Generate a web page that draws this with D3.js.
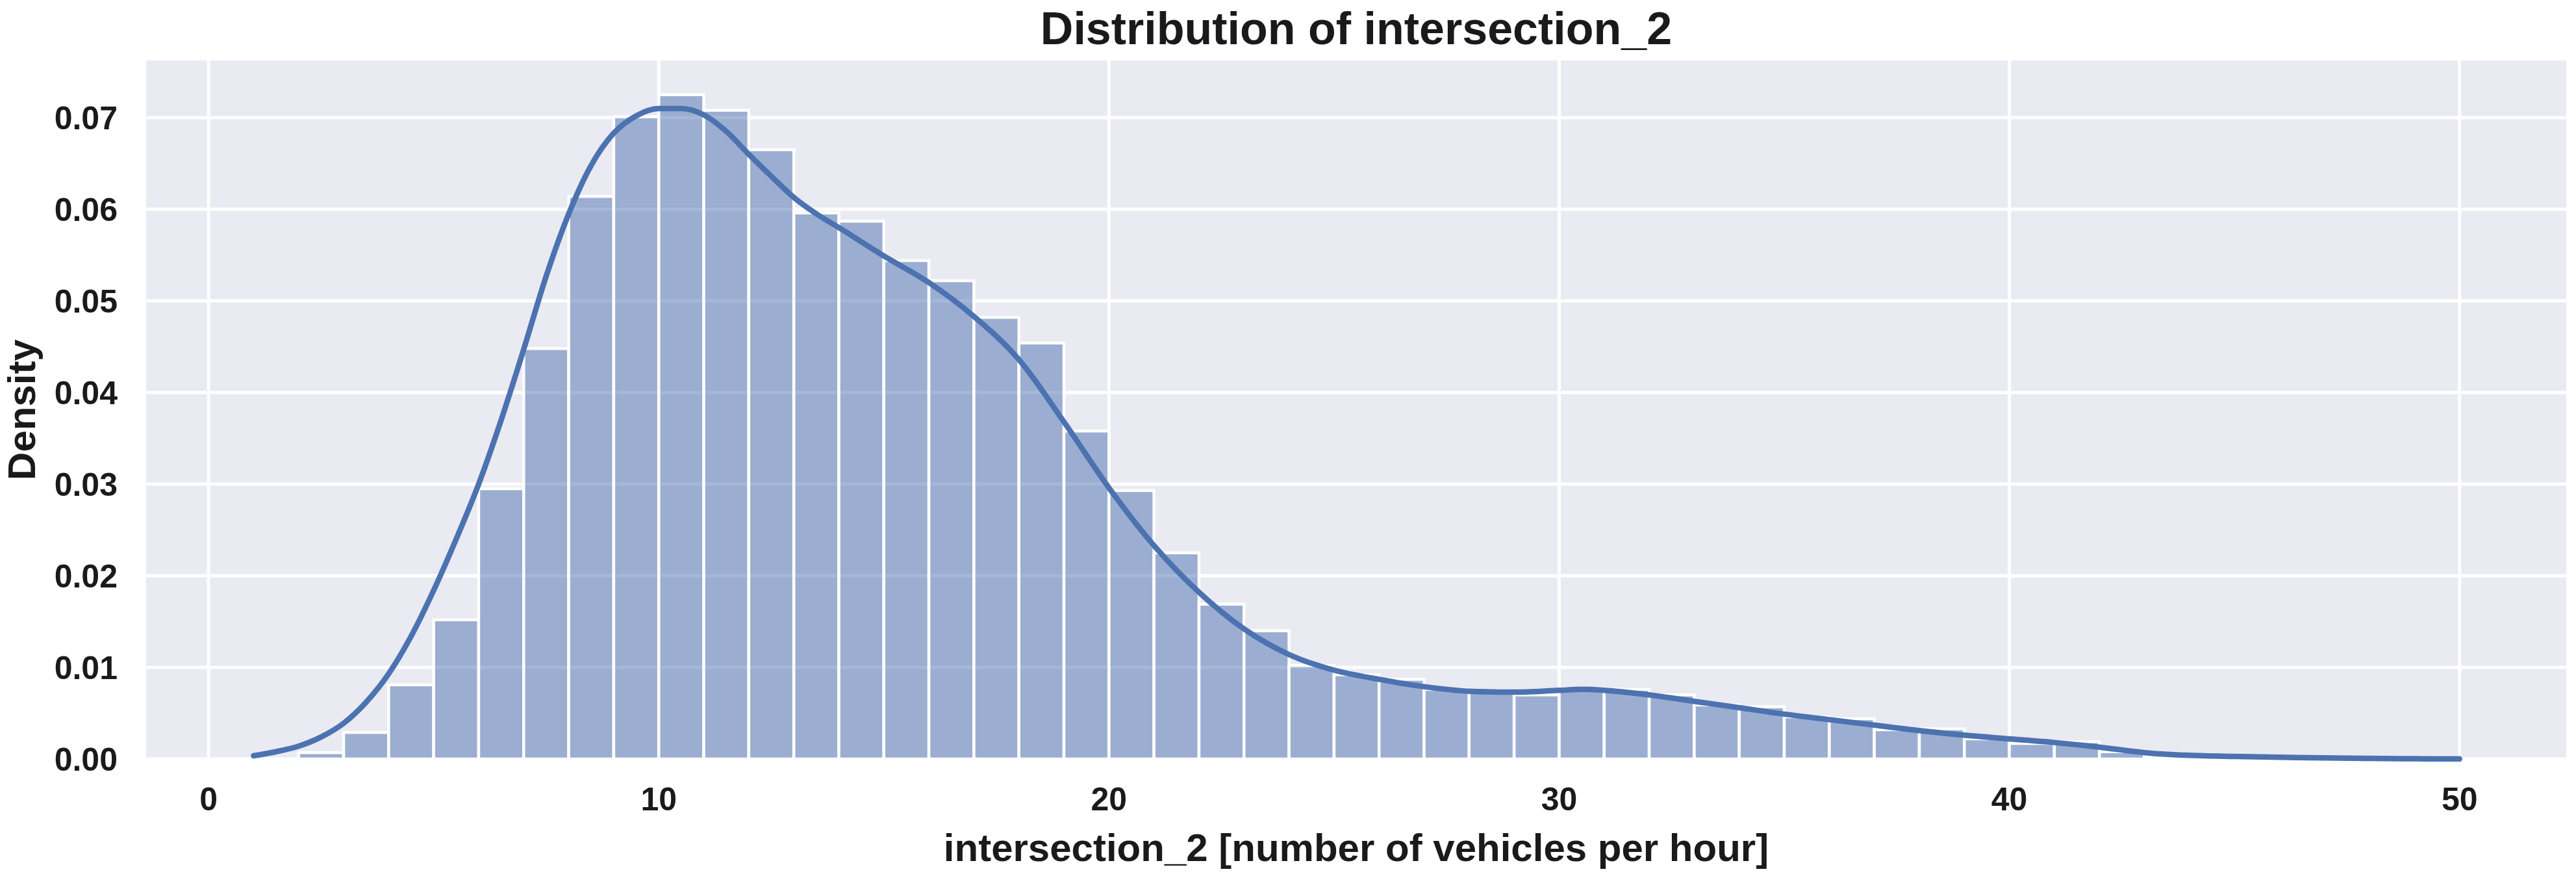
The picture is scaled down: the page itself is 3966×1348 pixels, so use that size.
<!DOCTYPE html>
<html>
<head>
<meta charset="utf-8">
<script src="https://cdn.jsdelivr.net/npm/d3@7"></script>
<style>
  html, body { margin: 0; padding: 0; background: #ffffff; }
  svg { display: block; }
  text { font-family: "Liberation Sans", Arial, Helvetica, sans-serif; font-weight: bold; fill: #1a1a1a; }
</style>
</head>
<body>
<svg id="chart" width="3966" height="1348"></svg>
<script>
// ---- data ----
const binStarts = [2,3,4,5,6,7,8,9,10,11,12,13,14,15,16,17,18,19,20,21,22,23,24,25,26,27,28,29,30,31,32,33,34,35,36,37,38,39,40,41,42,43];
const binDensity = [0.0007,0.0029,0.0081,0.0152,0.0295,0.0448,0.0614,0.0701,0.0725,0.0708,0.0665,0.0596,0.0587,0.0544,0.0522,0.0482,0.0454,0.0358,0.0293,0.0225,0.0169,0.0140,0.0102,0.0092,0.0087,0.0076,0.0073,0.0070,0.0077,0.0076,0.0070,0.0059,0.0057,0.0046,0.0044,0.0032,0.0033,0.0022,0.0017,0.0019,0.0008,0.0002];
const binWidth = 1;

const kdeX = [1,1.5,2,2.5,3,3.5,4,4.5,5,5.5,6,6.5,7,7.5,8,8.5,9,9.5,10,10.5,11,11.5,12,12.5,13,13.5,14,15,16,17,18,19,20,21,22,23,24,25,26,27,28,29,30,30.5,31,32,33,34,35,36,37,38,39,40,41,42,43,44,45,46,47,48,49,50];
const kdeY = [0.00035,0.0008,0.0014,0.0024,0.0039,0.0062,0.0093,0.0134,0.0184,0.0240,0.0300,0.0370,0.0447,0.0527,0.0595,0.0648,0.0683,0.0702,0.0710,0.0710,0.0703,0.0685,0.0660,0.0636,0.0613,0.0595,0.0580,0.0549,0.0520,0.0483,0.0436,0.0368,0.0296,0.0233,0.0182,0.0142,0.0114,0.0097,0.0087,0.0079,0.0074,0.0073,0.0075,0.0076,0.0075,0.0070,0.0063,0.0056,0.0049,0.0043,0.0037,0.0031,0.0026,0.0022,0.0018,0.0013,0.0007,0.0004,0.00028,0.0002,0.00012,0.00007,0.00003,0.00001];

const xTicks = [0,10,20,30,40,50];
const yTicks = [0.00,0.01,0.02,0.03,0.04,0.05,0.06,0.07];

const titleText = "Distribution of intersection_2";
const xLabelText = "intersection_2 [number of vehicles per hour]";
const yLabelText = "Density";

// ---- layout ----
const W = 3966, H = 1348;
const plot = { left: 225, right: 3951, top: 93, bottom: 1168 };
const color = "#4c72b0";

const svg = d3.select("#chart");
svg.append("rect").attr("x",0).attr("y",0).attr("width",W).attr("height",H).attr("fill","#ffffff");

const x = d3.scaleLinear().domain([-1.386, 52.37]).range([plot.left, plot.right]);
const y = d3.scaleLinear().domain([0, 0.07624]).range([plot.bottom, plot.top]);

// axes background
svg.append("rect")
  .attr("x", plot.left).attr("y", plot.top)
  .attr("width", plot.right - plot.left).attr("height", plot.bottom - plot.top)
  .attr("fill", "#eaeaf2");

const g = svg.append("g");

// grid lines
g.selectAll("line.gx").data(xTicks).join("line")
  .attr("x1", d => x(d)).attr("x2", d => x(d))
  .attr("y1", plot.top).attr("y2", plot.bottom)
  .attr("stroke", "#ffffff").attr("stroke-width", 5);
g.selectAll("line.gy").data(yTicks).join("line")
  .attr("x1", plot.left).attr("x2", plot.right)
  .attr("y1", d => y(d)).attr("y2", d => y(d))
  .attr("stroke", "#ffffff").attr("stroke-width", 5);

// histogram bars
const bars = binStarts.map((s, i) => ({ x0: s, x1: s + binWidth, v: binDensity[i] }));
g.selectAll("rect.bar").data(bars).join("rect")
  .attr("class", "bar")
  .attr("x", d => x(d.x0)).attr("width", d => x(d.x1) - x(d.x0))
  .attr("y", d => y(d.v)).attr("height", d => y(0) - y(d.v))
  .attr("fill", color).attr("fill-opacity", 0.5)
  .attr("stroke", "#ffffff").attr("stroke-width", 4.5);

// KDE line
const kde = kdeX.map((xv, i) => [xv, kdeY[i]]);
const line = d3.line().x(d => x(d[0])).y(d => y(d[1])).curve(d3.curveMonotoneX);
g.append("path").datum(kde)
  .attr("d", line)
  .attr("fill", "none")
  .attr("stroke", color)
  .attr("stroke-width", 8.5)
  .attr("stroke-linecap", "round")
  .attr("stroke-linejoin", "round");

// tick labels
svg.selectAll("text.xt").data(xTicks).join("text")
  .attr("x", d => x(d)).attr("y", 1247)
  .attr("text-anchor", "middle")
  .attr("font-size", 50)
  .text(d => d3.format("d")(d));

svg.selectAll("text.yt").data(yTicks).join("text")
  .attr("x", 181).attr("y", d => y(d))
  .attr("dy", "0.36em")
  .attr("text-anchor", "end")
  .attr("font-size", 50)
  .text(d => d3.format(".2f")(d));

// axis labels
svg.append("text")
  .attr("x", (plot.left + plot.right) / 2).attr("y", 1325)
  .attr("text-anchor", "middle")
  .attr("font-size", 60)
  .text(xLabelText);

svg.append("text")
  .attr("transform", `translate(54, ${(plot.top + plot.bottom) / 2}) rotate(-90)`)
  .attr("text-anchor", "middle")
  .attr("font-size", 60)
  .text(yLabelText);

// title
svg.append("text")
  .attr("x", (plot.left + plot.right) / 2).attr("y", 68)
  .attr("text-anchor", "middle")
  .attr("font-size", 70)
  .text(titleText);
</script>
</body>
</html>
